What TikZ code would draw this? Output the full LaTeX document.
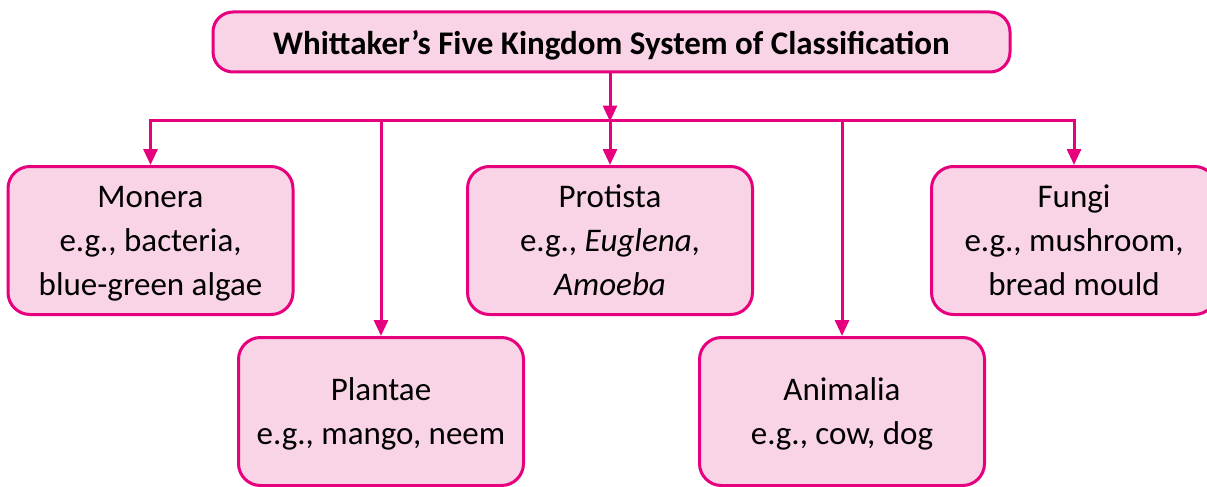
\documentclass[tikz,border=0pt]{standalone}
\usepackage{fontspec}
\setmainfont{Carlito}
\usetikzlibrary{arrows.meta}
\usepackage{xcolor}
\definecolor{kingline}{RGB}{230,0,126}
\definecolor{kingfill}{RGB}{249,211,230}

\tikzset{
  kingbox/.style={draw=kingline,fill=kingfill,line width=3pt,rounded corners=22pt,
    minimum width=285pt,minimum height=148pt,align=center,inner sep=0pt,
    font=\fontsize{33}{44}\selectfont,text depth=-7pt},
  kinglink/.style={draw=kingline,line width=3pt},
  kingarrow/.style={kinglink,-{Triangle[width=14pt,length=16pt]}}
}

\begin{document}
\begin{tikzpicture}[x=1pt,y=1pt,yscale=-1,xscale=1]
\useasboundingbox (0,0) rectangle (1207,487);

% Title Node
\node [kingbox,minimum width=797pt,minimum height=60pt,rounded corners=20pt,
  font=\fontsize{33}{36}\selectfont\bfseries,text depth=-3pt] (title) at (611.5,42) {Whittaker’s Five Kingdom System of Classification};

% Kingdom Nodes
\node [kingbox] (monera) at (150.5,240.5) {Monera\\e.g., bacteria,\\blue-green algae};
\node [kingbox] (plantae) at (381,411.5) {Plantae\\e.g., mango, neem};
\node [kingbox] (protista) at (610,240.5) {Protista\\e.g., \textit{Euglena},\\\textit{Amoeba}};
\node [kingbox] (animalia) at (842,411.5) {Animalia\\e.g., cow, dog};
\node [kingbox] (fungi) at (1074,240.5) {Fungi\\e.g., mushroom,\\bread mould};

% Branch line
\coordinate (split) at (610,120);
\draw [kingarrow,shorten >=-1.5pt] (title.south -| split) -- (split);
\draw [kinglink,line cap=rect] (monera.north |- split) -- (fungi.north |- split);

% Drops
\foreach \kid in {monera,plantae,protista,animalia,fungi}
  \draw [kingarrow] (\kid.north |- split) -- (\kid.north);

\end{tikzpicture}
\end{document}
